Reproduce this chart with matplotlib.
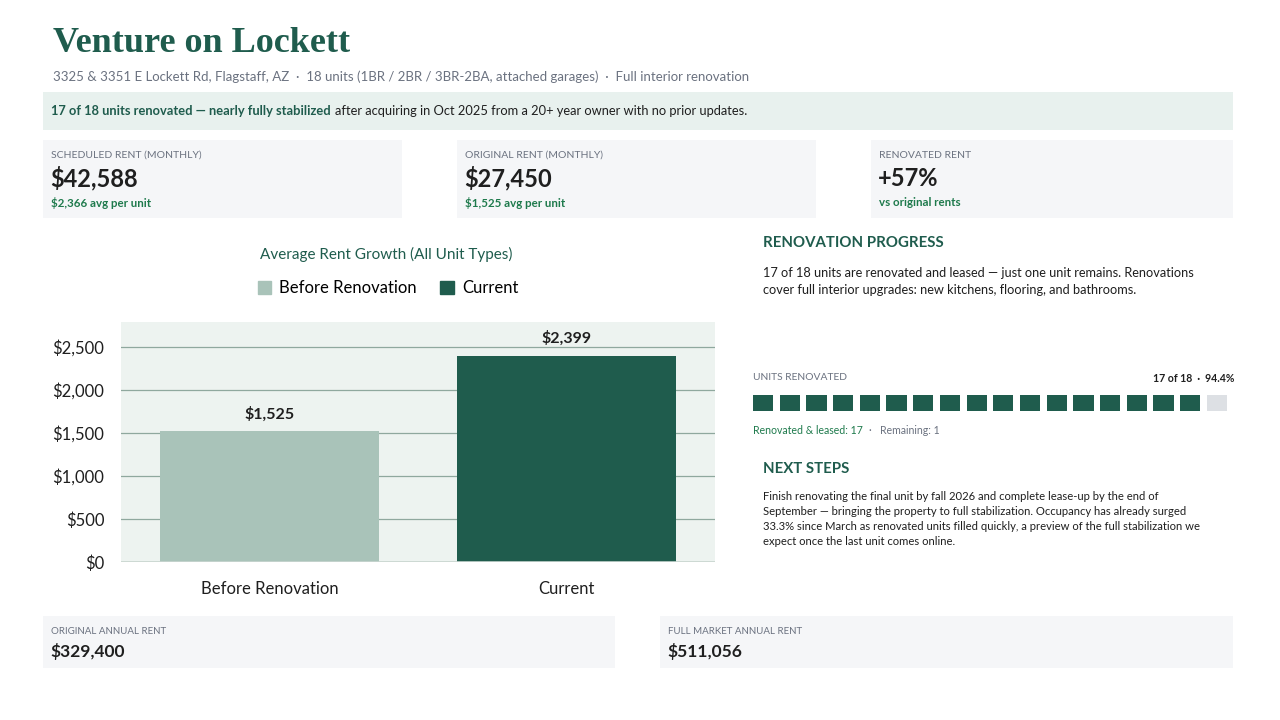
import matplotlib.pyplot as plt
from matplotlib.patches import Rectangle

# Chart data
categories = ["Before Renovation", "Current"]
avg_rent = [1525, 2399]
bar_colors = ["#a9c3b9", "#1f5c4d"]

# KPI cards
kpi_labels = ["SCHEDULED RENT (MONTHLY)", "ORIGINAL RENT (MONTHLY)", "RENOVATED RENT"]
kpi_values = ["$42,588", "$27,450", "+57%"]
kpi_notes = ["$2,366 avg per unit", "$1,525 avg per unit", "vs original rents"]

annual_labels = ["ORIGINAL ANNUAL RENT", "FULL MARKET ANNUAL RENT"]
annual_values = ["$329,400", "$511,056"]

units_total = 18
units_done = 17

GREEN = "#1f5c4d"
LIGHT_GREEN = "#1e7a4c"
GRAY = "#6b7280"
DARK = "#1f1f1f"
CARD = "#f5f6f8"

plt.rcParams['font.family'] = ['Lato', 'DejaVu Sans']

W, H = 1280, 720
fig = plt.figure(figsize=(12.8, 7.2), dpi=100)
fig.patch.set_facecolor("white")


def px(x, y):
    return x / W, 1 - y / H


def text(x, y, s, **kw):
    fx, fy = px(x, y)
    kw.setdefault("va", "center")
    return fig.text(fx, fy, s, **kw)


def box(x0, y0, x1, y1, color):
    fig.patches.append(Rectangle((x0 / W, 1 - y1 / H), (x1 - x0) / W, (y1 - y0) / H,
                                 transform=fig.transFigure, facecolor=color,
                                 edgecolor="none", zorder=0))


# Header
text(53, 44, "Venture on Lockett", fontsize=26, fontweight="bold", color=GREEN,
     family=["Liberation Serif", "DejaVu Serif"])
text(53, 77, "3325 & 3351 E Lockett Rd, Flagstaff, AZ  \u00b7  18 units (1BR / 2BR / 3BR-2BA, attached garages)  \u00b7  Full interior renovation",
     fontsize=9.5, color=GRAY)

# Banner
box(43, 92, 1233, 130, "#e8f1ee")
t = text(51, 111, "17 of 18 units renovated \u2014 nearly fully stabilized", fontsize=9.3,
         fontweight="bold", color=GREEN)
fig.canvas.draw()
bb = t.get_window_extent()
text(bb.x1 + 4, 111, "after acquiring in Oct 2025 from a 20+ year owner with no prior updates.",
     fontsize=9.3, color=DARK)

# KPI cards
card_x = [(43, 402), (457, 816), (871, 1233)]
for (x0, x1), lab, val, note in zip(card_x, kpi_labels, kpi_values, kpi_notes):
    box(x0, 140, x1, 218, CARD)
    text(x0 + 8, 155, lab, fontsize=7.5, color=GRAY)
    text(x0 + 7, 178, val, fontsize=17, fontweight="bold", color=DARK)
    text(x0 + 8, 203, note, fontsize=8.3, fontweight="bold", color=LIGHT_GREEN)

# Bar chart
text(386, 254, "Average Rent Growth (All Unit Types)", fontsize=11, color=GREEN, ha="center")
ax = fig.add_axes([121 / W, 1 - 562 / H, (715 - 121) / W, (562 - 322) / H])
ax.set_facecolor("#edf3f0")
xs = range(len(categories))
bars = ax.bar(xs, avg_rent, width=0.74, color=bar_colors, zorder=3)
ax.set_xlim(-0.5, 1.5)
ax.set_ylim(0, 2790)
ax.set_yticks([0, 500, 1000, 1500, 2000, 2500])
ax.set_yticklabels(["$0", "$500", "$1,000", "$1,500", "$2,000", "$2,500"])
ax.set_xticks(list(xs))
ax.set_xticklabels(categories)
ax.tick_params(axis="both", length=0, labelsize=12, colors=DARK)
ax.tick_params(axis="x", pad=14)
ax.tick_params(axis="y", pad=12)
ax.grid(axis="y", color="#8fa89e", linewidth=0.9, zorder=1)
for s in ax.spines.values():
    s.set_visible(False)
ax.axhline(0, color="#c9d6d0", linewidth=1.2, zorder=4)
for b, v in zip(bars, avg_rent):
    ax.text(b.get_x() + b.get_width() / 2, v + 110, f"${v:,}", ha="center", va="bottom",
            fontsize=11.5, fontweight="bold", color=DARK)

handles = [Rectangle((0, 0), 1, 1, color=c) for c in bar_colors]
fig.legend(handles, categories, loc="center", bbox_to_anchor=px(388, 288), ncol=2,
           frameon=False, fontsize=12, handlelength=0.8, handleheight=0.8,
           columnspacing=1.4, handletextpad=0.5)

# Renovation progress
text(763, 243, "RENOVATION PROGRESS", fontsize=10.8, fontweight="bold", color=GREEN)
text(763, 273, "17 of 18 units are renovated and leased \u2014 just one unit remains. Renovations",
     fontsize=9.2, color=DARK)
text(763, 290, "cover full interior upgrades: new kitchens, flooring, and bathrooms.",
     fontsize=9.2, color=DARK)

text(753, 378, "UNITS RENOVATED", fontsize=7.4, color=GRAY)
text(1234, 378, f"{units_done} of {units_total}  \u00b7  {units_done / units_total * 100:.1f}%",
     fontsize=7.6, fontweight="bold", color=DARK, ha="right")

ax2 = fig.add_axes([753 / W, 1 - 411 / H, (1227 - 753) / W, (411 - 395) / H])
unit_idx = list(range(units_total))
unit_colors = [GREEN if i < units_done else "#dde0e4" for i in unit_idx]
ax2.bar(unit_idx, [1] * units_total, width=0.76, color=unit_colors, align="edge")
ax2.set_xlim(0, units_total - 0.24)
ax2.set_ylim(0, 1)
ax2.axis("off")

t2 = text(753, 431, f"Renovated & leased: {units_done}", fontsize=7.6, color=LIGHT_GREEN)
fig.canvas.draw()
bb2 = t2.get_window_extent()
text(bb2.x1 + 6, 431, f"\u00b7   Remaining: {units_total - units_done}", fontsize=7.6, color=GRAY)

# Next steps
text(763, 469, "NEXT STEPS", fontsize=10.8, fontweight="bold", color=GREEN)
next_lines = [
    "Finish renovating the final unit by fall 2026 and complete lease-up by the end of",
    "September \u2014 bringing the property to full stabilization. Occupancy has already surged",
    "33.3% since March as renovated units filled quickly, a preview of the full stabilization we",
    "expect once the last unit comes online.",
]
for i, line in enumerate(next_lines):
    text(763, 496 + i * 15.3, line, fontsize=8.1, color=DARK)

# Annual cards
for (x0, x1), lab, val in zip([(43, 615), (660, 1233)], annual_labels, annual_values):
    box(x0, 616, x1, 668, CARD)
    text(x0 + 8, 632, lab, fontsize=7, color=GRAY)
    text(x0 + 7, 651, val, fontsize=12.5, fontweight="bold", color=DARK)

fig.savefig("out.png", dpi=100, facecolor="white")
